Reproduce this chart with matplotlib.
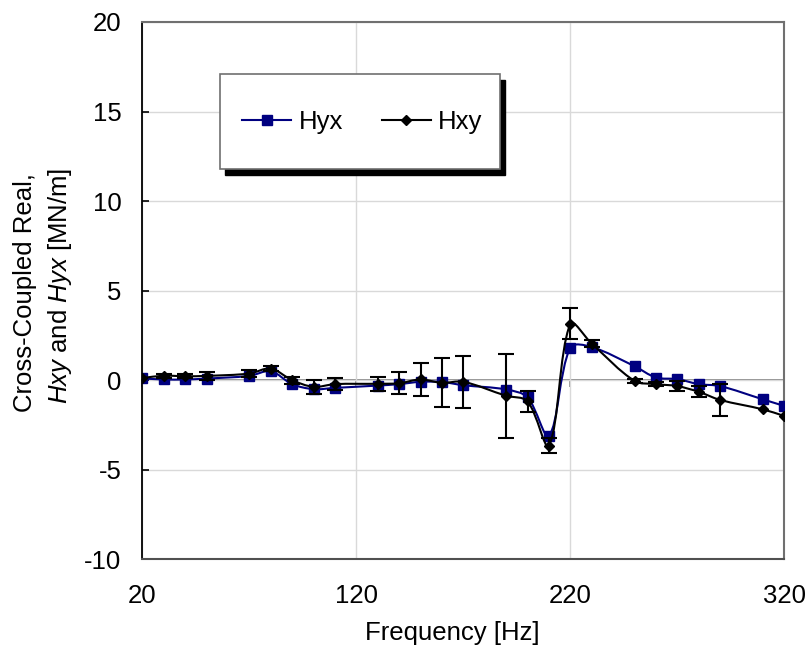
import numpy as np
import matplotlib
matplotlib.use("Agg")
import matplotlib.pyplot as plt
from matplotlib.path import Path
from matplotlib.patches import PathPatch, Rectangle
from matplotlib.lines import Line2D

plt.rcParams['font.family'] = ['Liberation Sans', 'DejaVu Sans']
plt.rcParams['mathtext.fontset'] = 'custom'
plt.rcParams['mathtext.rm'] = 'Liberation Sans'
plt.rcParams['mathtext.it'] = 'Liberation Sans:italic'
plt.rcParams['axes.unicode_minus'] = False

FS = 18.5

# cross-coupled real stiffness vs. frequency
freq = [20, 30, 40, 50, 70, 80, 90, 100, 110, 130, 140, 150, 160, 170,
        190, 200, 210, 220, 230, 250, 260, 270, 280, 290, 310, 320]
hyx = [0.10, 0.04, 0.04, 0.09, 0.24, 0.50, -0.22, -0.50, -0.43, -0.30,
       -0.22, -0.09, -0.10, -0.28, -0.52, -0.96, -3.10, 1.82, 1.85, 0.78,
       0.15, 0.06, -0.22, -0.33, -1.07, -1.44]
hxy = [0.12, 0.25, 0.22, 0.24, 0.37, 0.65, 0.00, -0.37, -0.22, -0.20,
       -0.17, 0.04, -0.15, -0.09, -0.87, -1.18, -3.65, 3.15, 2.04, -0.04,
       -0.22, -0.33, -0.65, -1.10, -1.63, -2.00]
hxy_err = [0.0, 0.10, 0.10, 0.22, 0.18, 0.15, 0.20, 0.40, 0.35, 0.40,
           0.60, 0.92, 1.37, 1.44, 2.34, 0.60, 0.42, 0.87, 0.20, 0.12,
           0.10, 0.28, 0.30, 0.90, 0.0, 0.0]

xticks = [20, 120, 220, 320]
yticks = [-10, -5, 0, 5, 10, 15, 20]

# pixels per data unit, used only to weigh segment lengths when smoothing
PX_X = 642 / 300
PX_Y = 537 / 30


def smooth_path(x, y):
    """Bezier curve through the points, tangents weighted by segment length."""
    pts = np.column_stack([x, y]).astype(float)
    n = len(pts)
    scr = pts * [PX_X, PX_Y]
    seg = np.hypot(*np.diff(scr, axis=0).T)
    out_ctl = np.zeros_like(pts)
    in_ctl = np.zeros_like(pts)
    for i in range(n):
        prev = pts[i - 1] if i > 0 else pts[i]
        nxt = pts[i + 1] if i < n - 1 else pts[i]
        d = nxt - prev
        l_in = seg[i - 1] if i > 0 else 0.0
        l_out = seg[i] if i < n - 1 else 0.0
        tot = l_in + l_out
        if tot == 0:
            tot = 1.0
        out_ctl[i] = pts[i] + d * (l_out / tot) / 3.0
        in_ctl[i] = pts[i] - d * (l_in / tot) / 3.0
    verts = [pts[0]]
    codes = [Path.MOVETO]
    for i in range(n - 1):
        verts += [out_ctl[i], in_ctl[i + 1], pts[i + 1]]
        codes += [Path.CURVE4] * 3
    return Path(verts, codes)


fig = plt.figure(figsize=(8.11, 6.54), dpi=100)
ax = fig.add_axes([0.1755, 0.1448, 0.7916, 0.8216])

blue = '#000080'

ax.add_patch(PathPatch(smooth_path(freq, hyx), fill=False,
                       edgecolor=blue, lw=1.5, zorder=2))
ax.plot(freq, hyx, ls='none', marker='s', ms=7, color=blue, zorder=3)

ax.add_patch(PathPatch(smooth_path(freq, hxy), fill=False,
                       edgecolor='black', lw=1.5, zorder=4))
err_x = [f for f, e in zip(freq, hxy_err) if e > 0]
err_y = [v for v, e in zip(hxy, hxy_err) if e > 0]
err_e = [e for e in hxy_err if e > 0]
ax.errorbar(err_x, err_y, yerr=err_e, fmt='none', ecolor='black',
            elinewidth=1.5, capsize=6, capthick=1.5, zorder=5)
ax.plot(freq, hxy, ls='none', marker='D', ms=4.8, color='black', zorder=6)

ax.set_xlim(20, 320)
ax.set_ylim(-10, 20)
ax.set_xticks(xticks)
ax.set_yticks(yticks)
ax.tick_params(axis='x', length=0, pad=18, labelsize=FS)
ax.tick_params(axis='y', direction='in', length=5, width=1.2,
               pad=15, labelsize=FS)

ax.set_axisbelow(True)
ax.grid(True, color='#d9d9d9', lw=1.0)

for side in ['top', 'right']:
    ax.spines[side].set_color('#707070')
    ax.spines[side].set_linewidth(1.5)
ax.spines['left'].set_color('black')
ax.spines['left'].set_linewidth(1.3)
ax.spines['bottom'].set_color('#505050')
ax.spines['bottom'].set_linewidth(1.5)

# category axis crossing at zero
zero_ax = ax.secondary_xaxis(1.0 / 3.0)
zero_ax.set_xticks(xticks)
zero_ax.tick_params(axis='x', direction='out', length=5, width=1.2,
                    color='#808080', labelbottom=False)
zero_ax.spines['bottom'].set_color('#808080')
zero_ax.spines['bottom'].set_linewidth(1.3)

# legend box with solid drop shadow
x0, x1 = 0.121, 0.557
y0, y1 = 0.7255, 0.9032
ax.add_patch(Rectangle((x0 + 0.008, y0 - 0.011), x1 - x0, y1 - y0,
                       transform=ax.transAxes, facecolor='black',
                       edgecolor='black', zorder=7))
ax.add_patch(Rectangle((x0, y0), x1 - x0, y1 - y0, transform=ax.transAxes,
                       facecolor='white', edgecolor='#707070', lw=1.2,
                       zorder=8))
handles = [
    Line2D([], [], color=blue, lw=1.5, marker='s', ms=7),
    Line2D([], [], color='black', lw=1.5, marker='D', ms=4.8),
]
leg = ax.legend(handles, ['Hyx', 'Hxy'], loc='center',
                bbox_to_anchor=((x0 + x1) / 2 + 0.004, (y0 + y1) / 2),
                ncol=2, frameon=False, fontsize=FS, handlelength=1.9,
                handletextpad=0.3, columnspacing=1.5, borderaxespad=0)
leg.set_zorder(9)

fig.text(452 / 811, 1 - 633 / 654, 'Frequency [Hz]', fontsize=FS,
         ha='center', va='center')
fig.text(25 / 811, 1 - 293 / 654, 'Cross-Coupled Real,', fontsize=FS,
         rotation=90, ha='center', va='center')
fig.text(60 / 811, 1 - 286 / 654,
         r'$\mathit{Hxy}$ and $\mathit{Hyx}$ [MN/m]', fontsize=FS,
         rotation=90, ha='center', va='center')

fig.savefig('out.png', dpi=100)
